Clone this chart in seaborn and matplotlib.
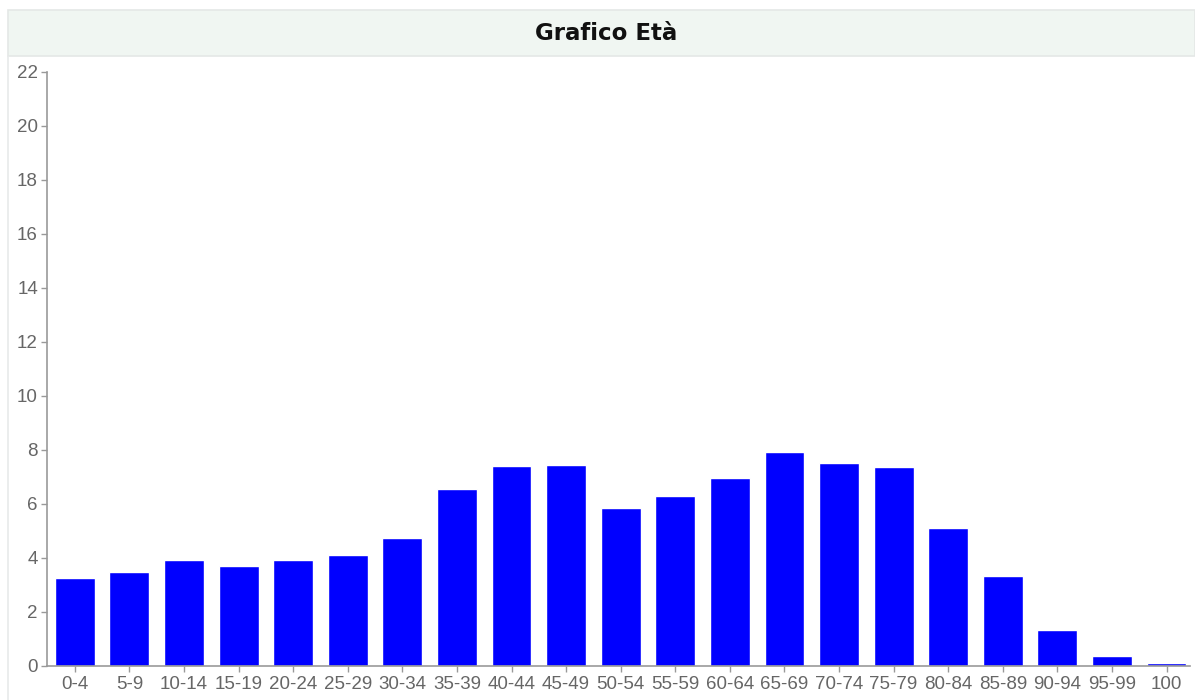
import matplotlib
matplotlib.use("Agg")
import matplotlib.pyplot as plt
import seaborn as sns
import pandas as pd
from matplotlib.patches import Rectangle
from matplotlib.lines import Line2D

categories = ["0-4", "5-9", "10-14", "15-19", "20-24", "25-29", "30-34", "35-39",
              "40-44", "45-49", "50-54", "55-59", "60-64", "65-69", "70-74", "75-79",
              "80-84", "85-89", "90-94", "95-99", "100"]
values = [3.26, 3.47, 3.94, 3.69, 3.94, 4.10, 4.74, 6.57,
          7.41, 7.46, 5.86, 6.29, 6.96, 7.93, 7.53, 7.37,
          5.10, 3.32, 1.32, 0.37, 0.12]
y_ticks = list(range(0, 23, 2))
title = "Grafico Età"

sns.set_theme(style="white")
plt.rcParams['font.family'] = ['Liberation Sans', 'DejaVu Sans']

W, H = 1195, 700
fig = plt.figure(figsize=(W / 100, H / 100), dpi=100)

# header band
fig.patches.append(Rectangle((8 / W, 1 - 56 / H), (W - 8) / W, 46 / H, transform=fig.transFigure,
                             facecolor="#f0f6f2", edgecolor="#e4e8e6", linewidth=1.2, zorder=0))
fig.lines.append(Line2D([8 / W, 8 / W], [0, 1 - 56 / H], transform=fig.transFigure,
                        color="#e8eaea", linewidth=1.2))
fig.text(606 / W, 1 - 34 / H, title, ha="center", va="center", fontsize=16.5,
         fontweight="bold", color="#111111", family="DejaVu Sans")

ax = fig.add_axes([47 / W, 1 - 666 / H, (1190 - 47) / W, (666 - 72) / H])
df = pd.DataFrame({"age": categories, "value": values})
sns.barplot(data=df, x="age", y="value", color="#0000ff", saturation=1, width=0.73, ax=ax)

ax.set_xlim(-0.51, 20.43)
ax.set_ylim(0, 22)
ax.set_yticks(y_ticks)
ax.set_yticklabels([str(t) for t in y_ticks])
ax.set_xlabel("")
ax.set_ylabel("")
for s in ["top", "right"]:
    ax.spines[s].set_visible(False)
for s in ["left", "bottom"]:
    ax.spines[s].set_color("#999999")
    ax.spines[s].set_linewidth(1.2)
ax.tick_params(axis="both", which="both", length=4, width=1, color="#999999",
               labelcolor="#666666", labelsize=13.5, pad=2.5, left=True, bottom=True)
ax.tick_params(axis="x", pad=3.5)
ax.set_facecolor("white")

fig.savefig("out.png", dpi=100)
